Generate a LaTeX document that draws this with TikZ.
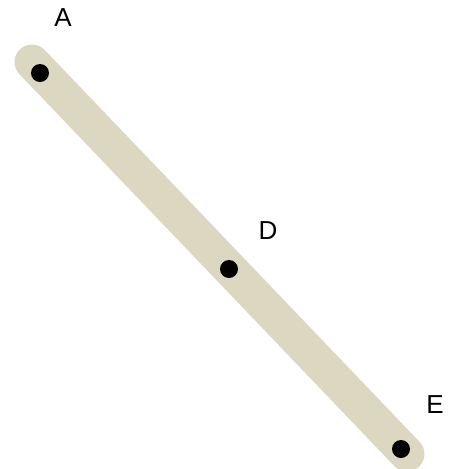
\documentclass[tikz,border=0pt]{standalone}
\usepackage{fontspec}
\setmainfont{Liberation Sans}
\usetikzlibrary{calc}
\definecolor{bandtan}{HTML}{DCD7C1}
\tikzset{
    dot/.style={circle, fill=black, inner sep=0pt, minimum size=18pt},
    ptlabel/.style={font=\fontsize{26}{30}\selectfont}
}

\begin{document}
\begin{tikzpicture}[x=1pt, y=-1pt]
    \useasboundingbox (0,0) rectangle (456,469);

    \coordinate (bA) at (32,62);
    \coordinate (bE) at (407,454);

    \draw[bandtan, line width=35pt, line cap=round] (bA) -- (bE);

    \node[dot] (A) at (40,73) {};
    \node[dot] (D) at (229,269) {};
    \node[dot] (E) at (401,449) {};

    \node[ptlabel] (lA) at (63,18) {A};
    \node[ptlabel] (lD) at (268,231) {D};
    \node[ptlabel] (lE) at (435,405) {E};
\end{tikzpicture}
\end{document}
